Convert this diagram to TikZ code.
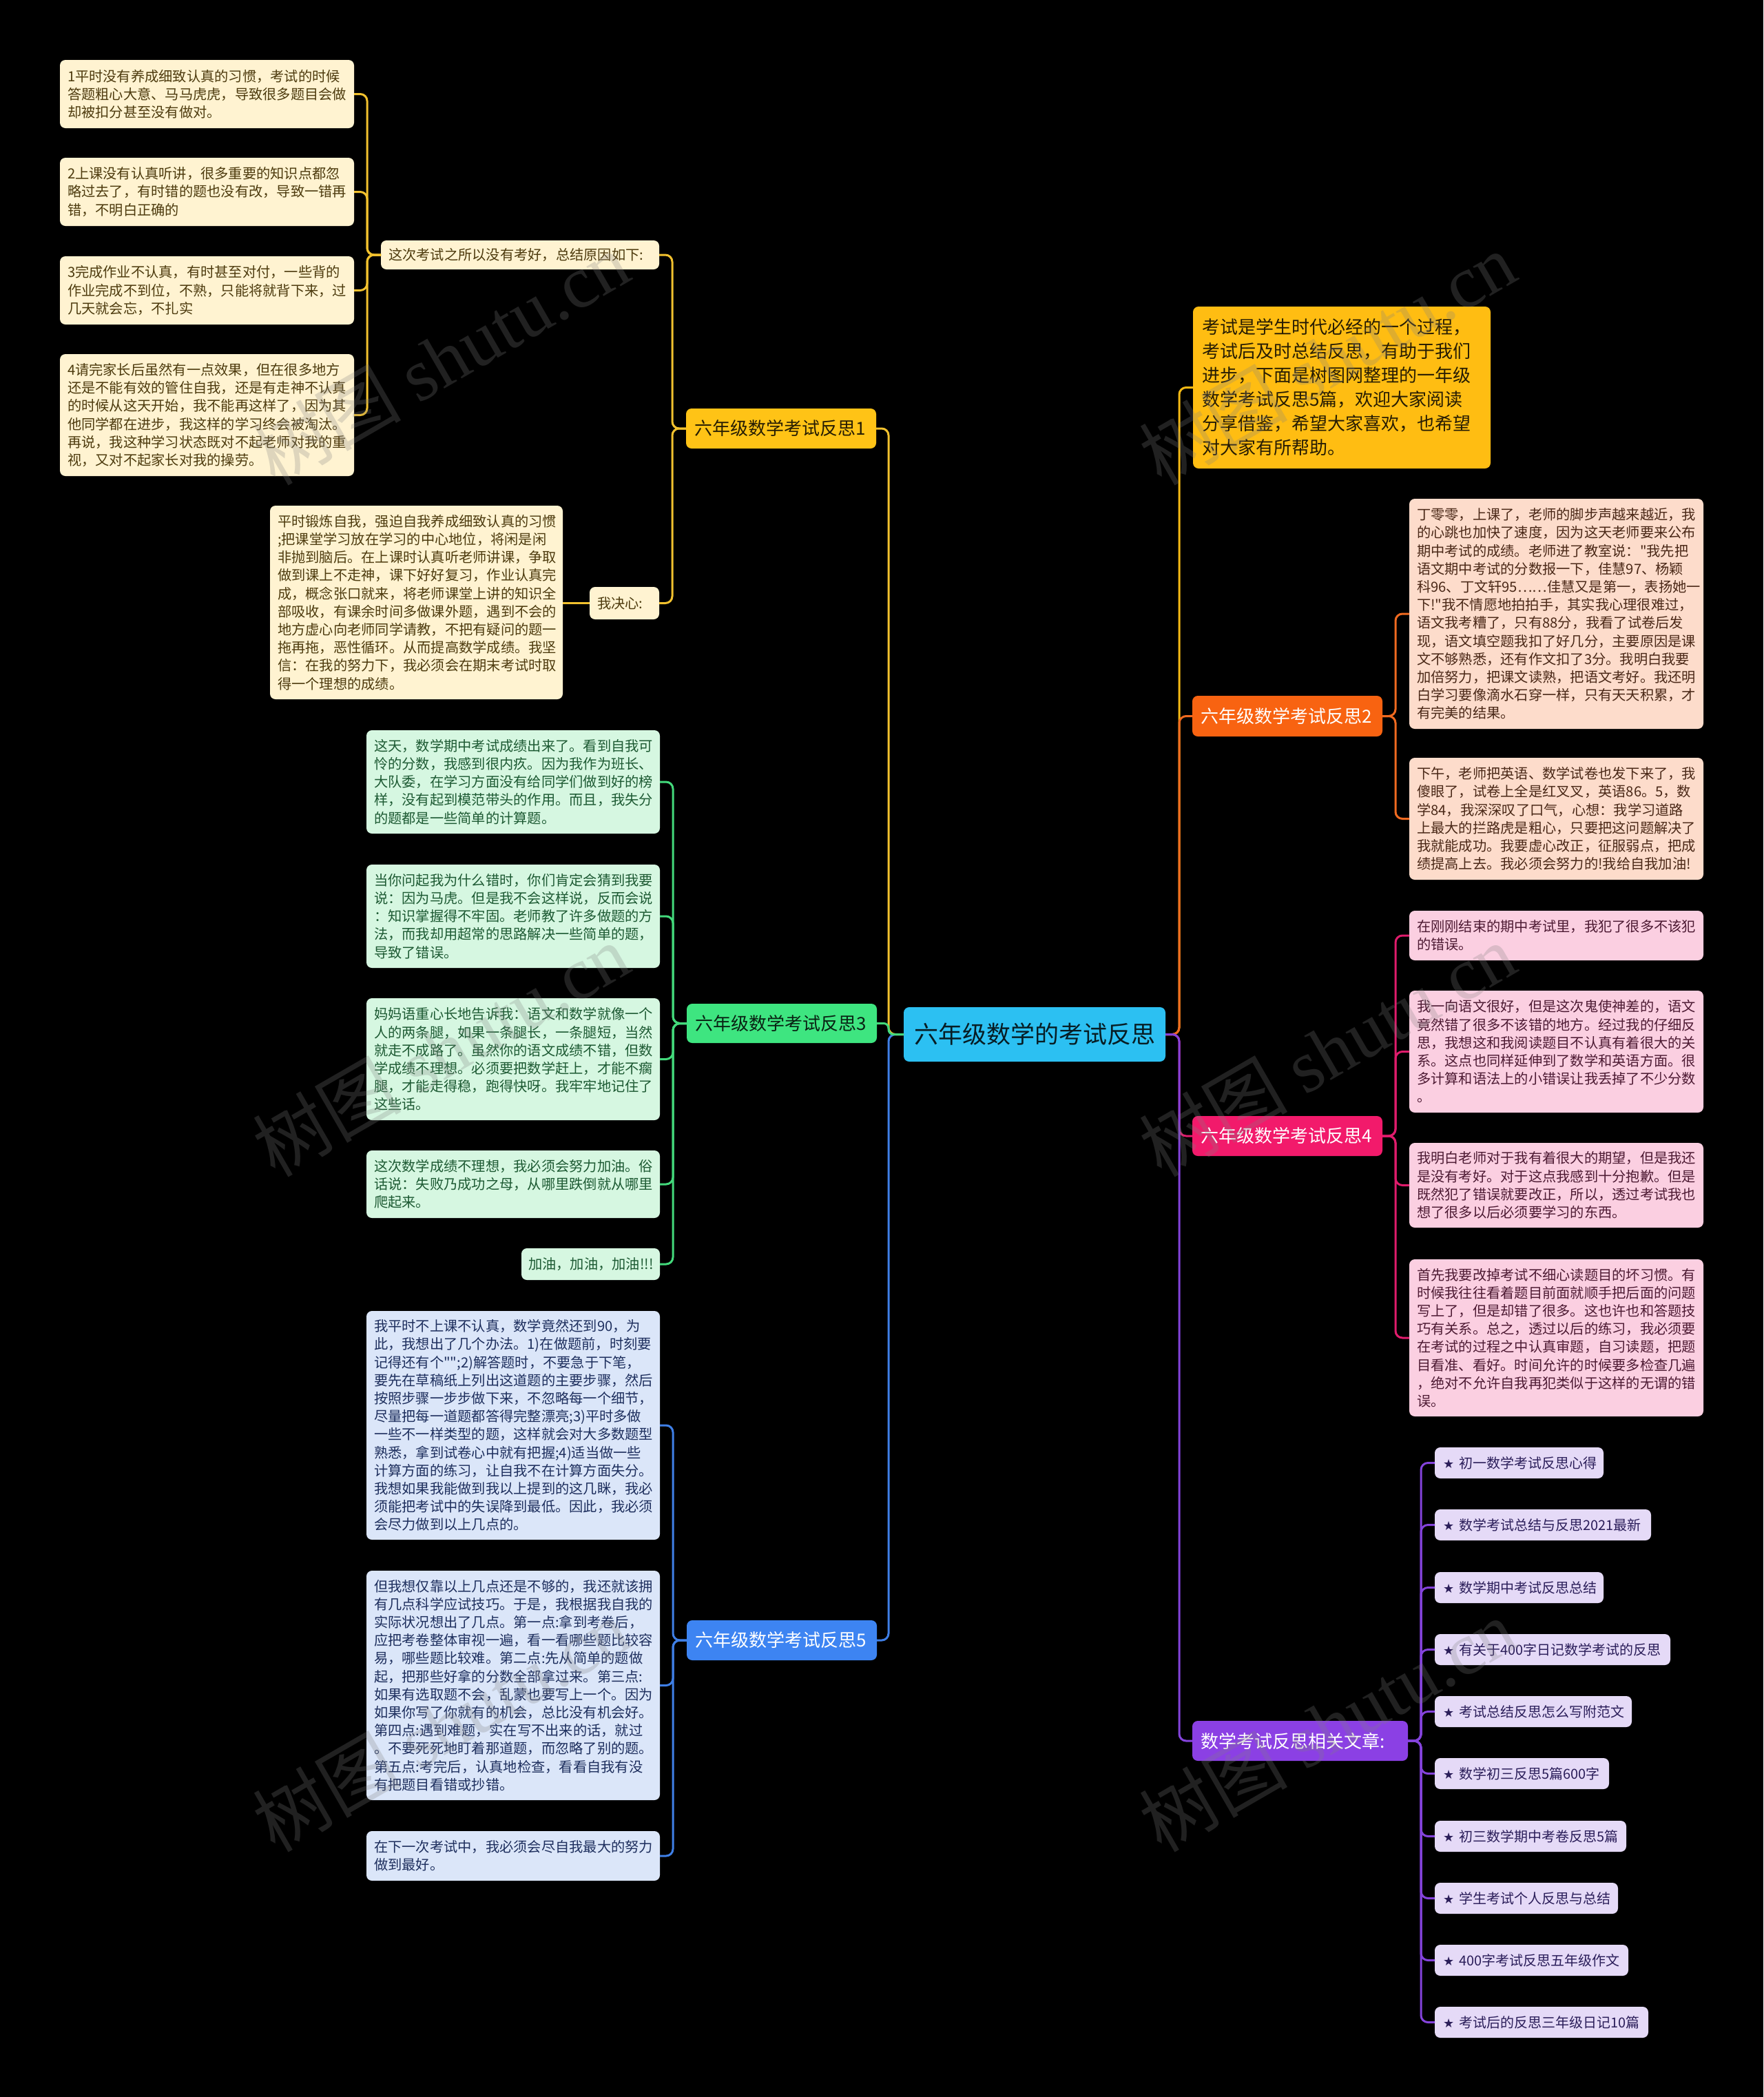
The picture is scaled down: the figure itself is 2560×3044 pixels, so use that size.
\documentclass[tikz,border=0pt]{standalone}
\usepackage{fontspec}
\setmainfont{Noto Sans CJK SC}
\newfontfamily\qfont{Noto Sans CJK SC}
\newfontfamily\starfont{DejaVu Sans}
\newfontfamily\wmserif{Liberation Serif}
\definecolor{fCream}{HTML}{FFF3D1}\definecolor{tCream}{HTML}{4D3B0E}
\definecolor{fMint}{HTML}{D6F7E1}\definecolor{tMint}{HTML}{1D5A33}
\definecolor{fSky}{HTML}{DBE6F9}\definecolor{tSky}{HTML}{1E2F5E}
\definecolor{fPeach}{HTML}{FDDCCB}\definecolor{tPeach}{HTML}{4A2817}
\definecolor{fPink}{HTML}{FBCFE1}\definecolor{tPink}{HTML}{4D1A33}
\definecolor{fLav}{HTML}{E5DAF7}\definecolor{tLav}{HTML}{2B1E5A}
\definecolor{nB1}{HTML}{FFC316}\definecolor{nB3}{HTML}{3EE580}
\definecolor{nB5}{HTML}{3D84F2}\definecolor{nB2}{HTML}{F86311}
\definecolor{nB4}{HTML}{F21A6B}\definecolor{nRel}{HTML}{8B40E4}
\definecolor{nCen}{HTML}{2CC0F2}\definecolor{nIntro}{HTML}{FFBD12}
\definecolor{lY}{HTML}{F2C12E}\definecolor{lIntro}{HTML}{F5B914}
\definecolor{lG}{HTML}{43D97B}\definecolor{lB}{HTML}{3F7FE6}
\definecolor{lO}{HTML}{F06A20}\definecolor{lP}{HTML}{E01C6C}
\definecolor{lV}{HTML}{8443DB}
\newcommand\leaffont{\fontsize{20.25pt}{26.2pt}\selectfont}
\newcommand\branchfont{\fontsize{26pt}{30pt}\selectfont}
\newcommand\relfont{\fontsize{20pt}{24pt}\selectfont}
\newcommand\stargl{{\starfont\fontsize{18pt}{18pt}\selectfont ★}\hspace{7pt}}
\newcommand\dq{{\qfont"}}
\tikzset{
  box/.style={anchor=north west, rounded corners=8pt, inner xsep=11pt, inner ysep=0pt, outer sep=0pt, align=left},
  leafY/.style={box, font=\leaffont, fill=fCream, text=tCream},
  leafG/.style={box, font=\leaffont, fill=fMint, text=tMint},
  leafB/.style={box, font=\leaffont, fill=fSky, text=tSky},
  leafO/.style={box, font=\leaffont, fill=fPeach, text=tPeach},
  leafP/.style={box, font=\leaffont, fill=fPink, text=tPink},
  leafV/.style={box, font=\relfont, fill=fLav, text=tLav, inner xsep=12pt, minimum height=45pt},
  branch/.style={box, font=\branchfont, inner xsep=12pt, text width=252pt, minimum height=58pt},
  conn/.style={line width=3pt, rounded corners=10pt},
  wm/.style={rotate=30, opacity=0.26, text=gray, font=\fontsize{108pt}{108pt}\selectfont}
}
\begin{document}
\begin{tikzpicture}[x=1pt,y=-1pt]
\fill[black] (0,0) rectangle (2560,3044);
\useasboundingbox (0,0) rectangle (2560,3044);

% ---------- centre and main branches ----------
\node[box, font=\fontsize{35pt}{42pt}\selectfont, fill=nCen, text=black!85!nCen, align=center, text width=352pt, inner xsep=14pt, minimum height=79pt] (center) at (1312,1462) {六年级数学的考试反思};
\node[branch, fill=nB1, text=black!85!nB1] (b1) at (996,593) {六年级数学考试反思1};
\node[branch, fill=nB3, text=black!85!nB3, minimum height=57pt] (b3) at (997,1457) {六年级数学考试反思3};
\node[branch, fill=nB5, text=white] (b5) at (997,2352) {六年级数学考试反思5};
\node[box, font=\fontsize{26pt}{35pt}\selectfont, fill=nIntro, text=black!85!nIntro, inner xsep=13pt, text width=406pt, minimum height=235pt] (intro) at (1732,445) {考试是学生时代必经的一个过程，\\考试后及时总结反思，有助于我们\\进步，下面是树图网整理的一年级\\数学考试反思5篇，欢迎大家阅读\\分享借鉴，希望大家喜欢，也希望\\对大家有所帮助。};
\node[branch, fill=nB2, text=white, minimum height=59pt] (b2) at (1731,1010) {六年级数学考试反思2};
\node[branch, fill=nB4, text=white] (b4) at (1731,1620) {六年级数学考试反思4};
\node[branch, fill=nRel, text=white, text width=289pt] (rel) at (1731,2498) {数学考试反思相关文章:};

% ---------- branch 1 ----------
\node[leafY, text width=382pt, minimum height=42pt] (why) at (553,349) {这次考试之所以没有考好，总结原因如下:};
\node[leafY, text width=79pt, minimum height=47pt] (decide) at (856,852) {我决心:};
\node[leafY, text width=405pt, minimum height=99pt] (l11) at (87,87) {1平时没有养成细致认真的习惯，考试的时候\\答题粗心大意、马马虎虎，导致很多题目会做\\却被扣分甚至没有做对。};
\node[leafY, text width=405pt, minimum height=99pt] (l12) at (87,229) {2上课没有认真听讲，很多重要的知识点都忽\\略过去了，有时错的题也没有改，导致一错再\\错，不明白正确的};
\node[leafY, text width=405pt, minimum height=99pt] (l13) at (87,372) {3完成作业不认真，有时甚至对付，一些背的\\作业完成不到位，不熟，只能将就背下来，过\\几天就会忘，不扎实};
\node[leafY, text width=405pt, minimum height=177pt] (l14) at (87,514) {4请完家长后虽然有一点效果，但在很多地方\\还是不能有效的管住自我，还是有走神不认真\\的时候从这天开始，我不能再这样了，因为其\\他同学都在进步，我这样的学习终会被淘汰。\\再说，我这种学习状态既对不起老师对我的重\\视，又对不起家长对我的操劳。};
\node[leafY, text width=403pt, minimum height=281pt] (l15) at (392,734) {平时锻炼自我，强迫自我养成细致认真的习惯\\;把课堂学习放在学习的中心地位，将闲是闲\\非抛到脑后。在上课时认真听老师讲课，争取\\做到课上不走神，课下好好复习，作业认真完\\成，概念张口就来，将老师课堂上讲的知识全\\部吸收，有课余时间多做课外题，遇到不会的\\地方虚心向老师同学请教，不把有疑问的题一\\拖再拖，恶性循环。从而提高数学成绩。我坚\\信：在我的努力下，我必须会在期末考试时取\\得一个理想的成绩。};

% ---------- branch 3 ----------
\node[leafG, text width=404pt, minimum height=150pt] (l31) at (532,1060) {这天，数学期中考试成绩出来了。看到自我可\\怜的分数，我感到很内疚。因为我作为班长、\\大队委，在学习方面没有给同学们做到好的榜\\样，没有起到模范带头的作用。而且，我失分\\的题都是一些简单的计算题。};
\node[leafG, text width=404pt, minimum height=150pt] (l32) at (532,1255) {当你问起我为什么错时，你们肯定会猜到我要\\说：因为马虎。但是我不会这样说，反而会说\\：知识掌握得不牢固。老师教了许多做题的方\\法，而我却用超常的思路解决一些简单的题，\\导致了错误。};
\node[leafG, text width=404pt, minimum height=177pt] (l33) at (532,1449) {妈妈语重心长地告诉我：语文和数学就像一个\\人的两条腿，如果一条腿长，一条腿短，当然\\就走不成路了。虽然你的语文成绩不错，但数\\学成绩不理想。必须要把数学赶上，才能不瘸\\腿，才能走得稳，跑得快呀。我牢牢地记住了\\这些话。};
\node[leafG, text width=404pt, minimum height=98pt] (l34) at (532,1670) {这次数学成绩不理想，我必须会努力加油。俗\\话说：失败乃成功之母，从哪里跌倒就从哪里\\爬起来。};
\node[leafG, inner xsep=10pt, text width=181pt, minimum height=46pt] (l35) at (757,1812) {加油，加油，加油!!!};

% ---------- branch 5 ----------
\node[leafB, text width=404pt, minimum height=332pt] (l51) at (532,1903) {我平时不上课不认真，数学竟然还到90，为\\此，我想出了几个办法。1)在做题前，时刻要\\记得还有个\dq\dq;2)解答题时，不要急于下笔，\\要先在草稿纸上列出这道题的主要步骤，然后\\按照步骤一步步做下来，不忽略每一个细节，\\尽量把每一道题都答得完整漂亮;3)平时多做\\一些不一样类型的题，这样就会对大多数题型\\熟悉，拿到试卷心中就有把握;4)适当做一些\\计算方面的练习，让自我不在计算方面失分。\\我想如果我能做到我以上提到的这几眯，我必\\须能把考试中的失误降到最低。因此，我必须\\会尽力做到以上几点的。};
\node[leafB, text width=404pt, minimum height=333pt] (l52) at (532,2280) {但我想仅靠以上几点还是不够的，我还就该拥\\有几点科学应试技巧。于是，我根据我自我的\\实际状况想出了几点。第一点:拿到考卷后，\\应把考卷整体审视一遍，看一看哪些题比较容\\易，哪些题比较难。第二点:先从简单的题做\\起，把那些好拿的分数全部拿过来。第三点:\\如果有选取题不会，乱蒙也要写上一个。因为\\如果你写了你就有的机会，总比没有机会好。\\第四点:遇到难题，实在写不出来的话，就过\\。不要死死地盯着那道题，而忽略了别的题。\\第五点:考完后，认真地检查，看看自我有没\\有把题目看错或抄错。};
\node[leafB, text width=404pt, minimum height=72pt] (l53) at (532,2658) {在下一次考试中，我必须会尽自我最大的努力\\做到最好。};

% ---------- branch 2 ----------
\node[leafO, text width=405pt, minimum height=334pt] (l21) at (2046,724) {丁零零，上课了，老师的脚步声越来越近，我\\的心跳也加快了速度，因为这天老师要来公布\\期中考试的成绩。老师进了教室说：\dq 我先把\\语文期中考试的分数报一下，佳慧97、杨颖\\科96、丁文轩95……佳慧又是第一，表扬她一\\下!\dq 我不情愿地拍拍手，其实我心理很难过，\\语文我考糟了，只有88分，我看了试卷后发\\现，语文填空题我扣了好几分，主要原因是课\\文不够熟悉，还有作文扣了3分。我明白我要\\加倍努力，把课文读熟，把语文考好。我还明\\白学习要像滴水石穿一样，只有天天积累，才\\有完美的结果。};
\node[leafO, text width=405pt, minimum height=177pt] (l22) at (2046,1100) {下午，老师把英语、数学试卷也发下来了，我\\傻眼了，试卷上全是红叉叉，英语86。5，数\\学84，我深深叹了口气，心想：我学习道路\\上最大的拦路虎是粗心，只要把这问题解决了\\我就能成功。我要虚心改正，征服弱点，把成\\绩提高上去。我必须会努力的!我给自我加油!};

% ---------- branch 4 ----------
\node[leafP, text width=405pt, minimum height=72pt] (l41) at (2046,1322) {在刚刚结束的期中考试里，我犯了很多不该犯\\的错误。};
\node[leafP, text width=405pt, minimum height=177pt] (l42) at (2046,1438) {我一向语文很好，但是这次鬼使神差的，语文\\竟然错了很多不该错的地方。经过我的仔细反\\思，我想这和我阅读题目不认真有着很大的关\\系。这点也同样延伸到了数学和英语方面。很\\多计算和语法上的小错误让我丢掉了不少分数\\。};
\node[leafP, text width=405pt, minimum height=123pt] (l43) at (2046,1659) {我明白老师对于我有着很大的期望，但是我还\\是没有考好。对于这点我感到十分抱歉。但是\\既然犯了错误就要改正，所以，透过考试我也\\想了很多以后必须要学习的东西。};
\node[leafP, text width=405pt, minimum height=228pt] (l44) at (2046,1828) {首先我要改掉考试不细心读题目的坏习惯。有\\时候我往往看着题目前面就顺手把后面的问题\\写上了，但是却错了很多。这也许也和答题技\\巧有关系。总之，透过以后的练习，我必须要\\在考试的过程之中认真审题，自习读题，把题\\目看准、看好。时间允许的时候要多检查几遍\\，绝对不允许自我再犯类似于这样的无谓的错\\误。};

% ---------- related articles ----------
\node[leafV, text width=221pt] (r1) at (2083,2101) {\mbox{\stargl 初一数学考试反思心得}};
\node[leafV, text width=290pt] (r2) at (2083,2191) {\mbox{\stargl 数学考试总结与反思2021最新}};
\node[leafV, text width=221pt] (r3) at (2083,2282) {\mbox{\stargl 数学期中考试反思总结}};
\node[leafV, text width=318pt] (r4) at (2083,2372) {\mbox{\stargl 有关于400字日记数学考试的反思}};
\node[leafV, text width=262pt] (r5) at (2083,2462) {\mbox{\stargl 考试总结反思怎么写附范文}};
\node[leafV, text width=229pt] (r6) at (2083,2552) {\mbox{\stargl 数学初三反思5篇600字}};
\node[leafV, text width=254pt] (r7) at (2083,2643) {\mbox{\stargl 初三数学期中考卷反思5篇}};
\node[leafV, text width=242pt] (r8) at (2083,2733) {\mbox{\stargl 学生考试个人反思与总结}};
\node[leafV, text width=257pt] (r9) at (2083,2823) {\mbox{\stargl 400字考试反思五年级作文}};
\node[leafV, text width=286pt] (r10) at (2083,2913) {\mbox{\stargl 考试后的反思三年级日记10篇}};

% ---------- connectors: centre ----------
\draw[conn, lY] (center.west) -- ++(-22,0) |- (b1.east);
\draw[conn, lB] (center.west) -- ++(-22,0) |- (b5.east);
\draw[conn, lG, rounded corners=7pt] (center.west) -- ++(-22,0) |- (b3.east);
\draw[conn, lIntro] (center.east) -- ++(20,0) |- (intro.west);
\draw[conn, lO] (center.east) -- ++(20,0) |- (b2.west);
\draw[conn, lP] (center.east) -- ++(20,0) |- (b4.west);
\draw[conn, lV] (center.east) -- ++(20,0) |- (rel.west);

% ---------- connectors: branch 1 ----------
\draw[conn, lY] (b1.west) -- ++(-20,0) |- (why.east);
\draw[conn, lY] (b1.west) -- ++(-20,0) |- (decide.east);
\foreach \n in {l11,l12,l13,l14}{\draw[conn, lY] (why.west) -- ++(-20,0) |- (\n.east);}
\draw[conn, lY] (decide.west) -- (l15.east |- decide.west);

% ---------- connectors: branch 3 and 5 ----------
\foreach \n in {l31,l32,l33,l34,l35}{\draw[conn, lG] (b3.west) -- ++(-20,0) |- (\n.east);}
\foreach \n in {l51,l52,l53}{\draw[conn, lB] (b5.west) -- ++(-20,0) |- (\n.east);}

% ---------- connectors: right side ----------
\foreach \n in {l21,l22}{\draw[conn, lO] (b2.east) -- ++(19,0) |- (\n.west);}
\foreach \n in {l41,l42,l43,l44}{\draw[conn, lP] (b4.east) -- ++(19,0) |- (\n.west);}
\foreach \n in {r1,r2,r3,r4,r5,r6,r7,r8,r9,r10}{\draw[conn, lV] (rel.east) -- ++(19,0) |- (\n.west);}

% ---------- watermark ----------
\node[wm] (wm1) at (640,520) {树图 {\wmserif shutu.cn}};
\node[wm] (wm2) at (1927,520) {树图 {\wmserif shutu.cn}};
\node[wm] (wm3) at (640,1524) {树图 {\wmserif shutu.cn}};
\node[wm] (wm4) at (1927,1524) {树图 {\wmserif shutu.cn}};
\node[wm] (wm5) at (640,2504) {树图 {\wmserif shutu.cn}};
\node[wm] (wm6) at (1927,2504) {树图 {\wmserif shutu.cn}};
\end{tikzpicture}
\end{document}
